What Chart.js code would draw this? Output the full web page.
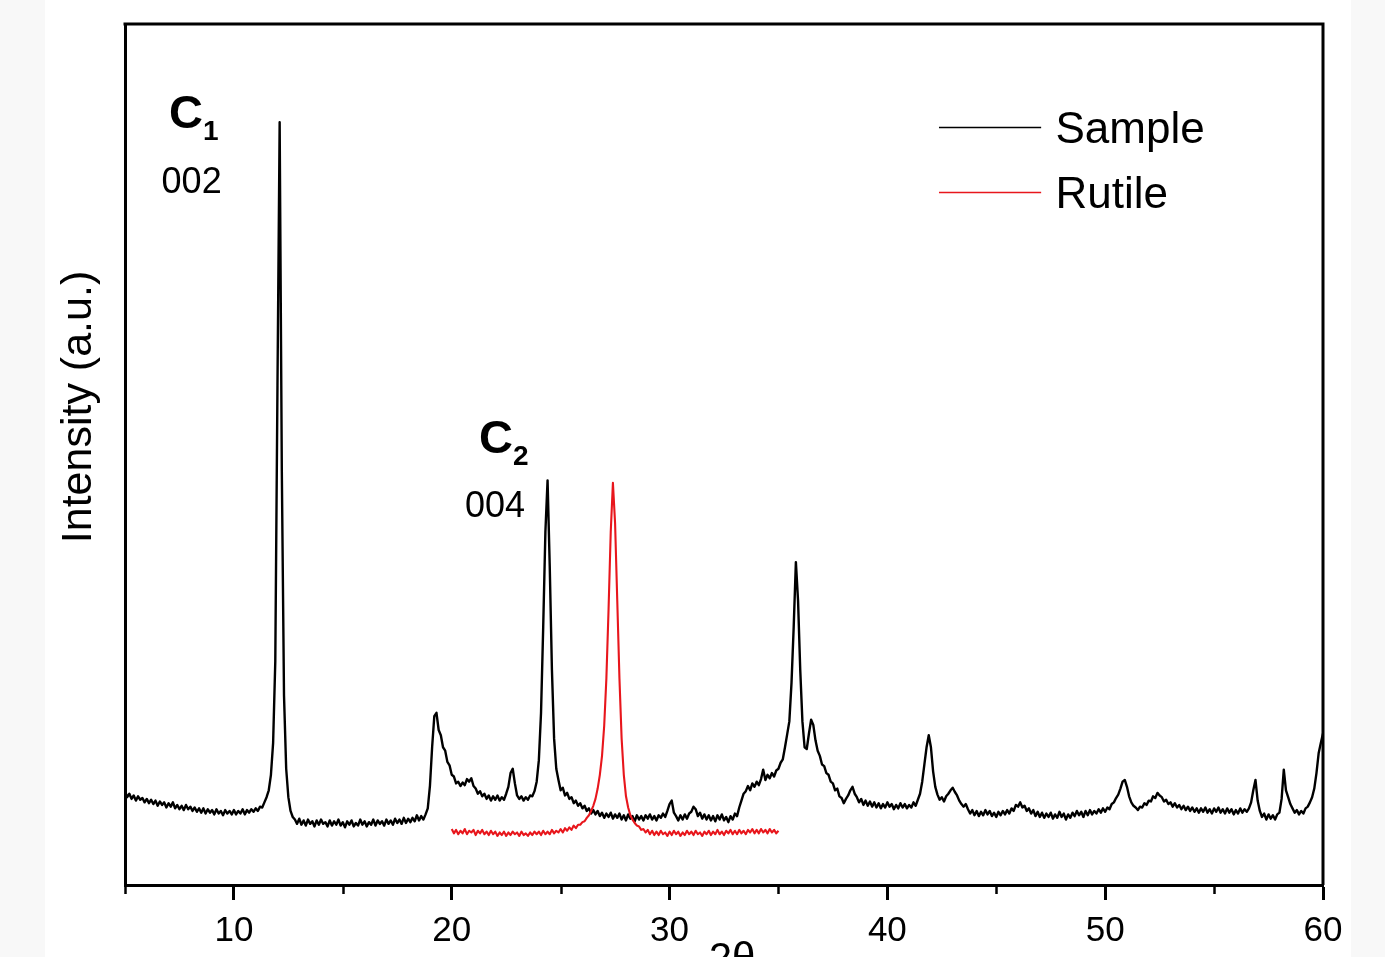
<!DOCTYPE html>
<html>
<head>
<meta charset="utf-8">
<title>XRD pattern</title>
<script src="https://cdn.jsdelivr.net/npm/chart.js@4.4.1/dist/chart.umd.min.js"></script>
<style>
  html, body { margin: 0; padding: 0; background: #f8f8f8; overflow: hidden; }
  #xrd { display: block; }
</style>
</head>
<body>
<canvas id="xrd" width="1385" height="957"></canvas>
<script>
// Scan settings (degrees 2θ)
const stepDeg = 0.1;
const sampleStart = 5.0;
const rutileStart = 20.0;

// Sample intensity, one row per degree (N.0 .. N.9), last value at 60.0
const sampleIntensity = [
  10.9, 10.2, 10.6, 10.0, 10.4, 9.8, 10.3, 9.9, 10.1, 9.6,   // 5
  10.0, 9.5, 9.9, 9.4, 9.8, 9.2, 9.7, 9.3, 9.6, 9.0,         // 6
  9.5, 9.1, 9.6, 8.9, 9.3, 8.8, 9.2, 8.7, 9.3, 8.8,          // 7
  9.1, 8.6, 9.0, 8.5, 8.9, 8.4, 8.9, 8.3, 8.8, 8.4,          // 8
  8.7, 8.2, 8.8, 8.3, 8.6, 8.1, 8.7, 8.3, 8.6, 8.2,          // 9
  8.7, 8.2, 8.6, 8.3, 8.8, 8.2, 8.7, 8.4, 8.8, 8.5,          // 10
  8.9, 8.6, 9.1, 9.0, 9.6, 10.2, 11.0, 12.8, 16.5, 26,       // 11
  58, 88.6, 48, 22, 13.5, 10.2, 8.6, 7.9, 7.6, 7.1,          // 12
  7.7, 7.0, 7.5, 6.9, 7.6, 7.1, 7.4, 6.8, 7.5, 7.0,          // 13
  7.6, 7.1, 7.3, 6.8, 7.5, 6.9, 7.4, 7.0, 7.6, 6.9,          // 14
  7.3, 6.7, 7.4, 7.0, 7.5, 6.8, 7.2, 6.9, 7.6, 7.0,          // 15
  7.4, 6.8, 7.3, 7.0, 7.6, 6.9, 7.5, 7.1, 7.4, 6.9,          // 16
  7.6, 7.1, 7.5, 7.0, 7.7, 7.2, 7.6, 7.1, 7.8, 7.2,          // 17
  7.7, 7.3, 7.8, 7.4, 8.1, 7.5, 8.0, 7.6, 8.2, 8.9,          // 18
  11.5, 16.0, 19.6, 20.0, 18.0, 17.4, 16.0, 15.6, 14.3, 13.9, // 19
  12.8, 12.6, 11.8, 12.0, 11.5, 11.9, 11.6, 12.3, 12.0, 12.4, // 20
  11.5, 11.2, 10.6, 10.9, 10.3, 10.6, 10.0, 10.4, 9.8, 10.3,  // 21
  9.9, 10.4, 9.8, 10.2, 9.9, 10.6, 11.4, 13.0, 13.5, 11.8,    // 22
  10.4, 10.0, 10.3, 9.8, 10.2, 9.9, 10.4, 10.3, 10.9, 12.0,   // 23
  14.5, 20, 30, 41, 47, 37, 25, 17, 13.5, 12.2,               // 24
  11.0, 11.3, 10.4, 10.7, 10.0, 10.2, 9.5, 9.8, 9.2, 9.5,     // 25
  8.9, 9.2, 8.6, 8.9, 8.3, 8.7, 8.2, 8.6, 8.0, 8.4,           // 26
  7.8, 8.3, 7.9, 8.4, 7.7, 8.2, 7.8, 8.3, 7.6, 8.1,           // 27
  7.5, 8.2, 7.7, 8.0, 7.4, 8.1, 7.6, 8.0, 7.5, 8.1,           // 28
  7.7, 8.2, 7.6, 8.0, 7.5, 8.1, 7.8, 8.3, 7.9, 8.6,           // 29
  9.4, 9.8, 8.4, 8.0, 7.5, 8.1, 7.6, 8.2, 7.7, 8.3,           // 30
  8.5, 9.1, 8.8, 8.0, 8.4, 7.7, 8.2, 7.6, 8.1, 7.5,           // 31
  8.0, 7.4, 8.1, 7.6, 8.2, 7.5, 7.9, 7.3, 8.0, 7.6,           // 32
  8.3, 8.0, 9.0, 9.8, 10.6, 10.9, 11.5, 11.0, 11.8, 11.4,     // 33
  12.0, 11.6, 12.3, 13.4, 12.2, 12.8, 12.4, 13.0, 12.6, 13.3, // 34
  13.5, 14.2, 14.6, 16.0, 17.5, 19.0, 23.5, 30, 37.5, 33,     // 35
  25, 19, 16.0, 15.8, 17.6, 19.2, 18.6, 16.8, 15.6, 15.0,     // 36
  14.0, 13.8, 13.0, 12.8, 12.0, 11.8, 11.0, 11.2, 10.3, 10.1, // 37
  9.5, 10.0, 10.4, 11.0, 11.4, 10.6, 10.2, 9.6, 10.0, 9.3,    // 38
  9.8, 9.2, 9.7, 9.1, 9.6, 9.0, 9.5, 8.9, 9.4, 9.0,           // 39
  9.6, 9.1, 9.4, 8.8, 9.3, 8.9, 9.5, 9.0, 9.4, 8.9,           // 40
  9.3, 9.0, 9.6, 9.2, 9.9, 10.6, 12.0, 14.0, 16.0, 17.4,      // 41
  16.0, 13.2, 11.4, 10.5, 9.9, 10.2, 9.7, 10.3, 10.6, 11.0,   // 42
  11.3, 10.8, 10.4, 9.8, 9.4, 9.1, 9.4, 8.8, 8.3, 8.7,        // 43
  8.1, 8.6, 8.0, 8.5, 8.1, 8.7, 8.2, 8.6, 8.0, 8.4,           // 44
  7.9, 8.5, 8.1, 8.6, 8.2, 8.7, 8.3, 8.9, 8.6, 9.3,           // 45
  9.1, 9.6, 9.0, 9.2, 8.6, 8.9, 8.3, 8.7, 8.0, 8.5,           // 46
  7.9, 8.4, 7.8, 8.3, 7.9, 8.4, 7.7, 8.2, 7.8, 8.5,           // 47
  7.9, 8.3, 7.6, 8.2, 7.8, 8.4, 8.0, 8.6, 8.1, 8.5,           // 48
  7.9, 8.6, 8.1, 8.7, 8.2, 8.6, 8.3, 8.8, 8.4, 8.9,           // 49
  8.5, 9.0, 8.8, 9.4, 9.6, 10.1, 10.5, 11.2, 12.0, 12.2,      // 50
  11.4, 10.3, 9.6, 9.2, 9.0, 8.7, 9.1, 9.0, 9.5, 9.3,         // 51
  9.8, 9.7, 10.3, 10.1, 10.7, 10.4, 10.2, 9.7, 9.9, 9.4,      // 52
  9.6, 9.1, 9.5, 9.0, 9.3, 8.8, 9.2, 8.7, 9.1, 8.6,           // 53
  9.0, 8.5, 8.9, 8.4, 8.9, 8.5, 9.0, 8.4, 8.8, 8.3,           // 54
  8.9, 8.5, 9.0, 8.4, 8.8, 8.3, 8.9, 8.4, 8.8, 8.2,           // 55
  8.7, 8.3, 8.9, 8.4, 8.8, 8.5, 8.9, 9.6, 11.0, 12.2,         // 56
  9.8, 8.6, 7.9, 8.3, 7.6, 8.2, 7.7, 8.1, 7.6, 8.2,           // 57
  8.4, 10.0, 13.4, 11.0, 10.2, 9.4, 8.9, 8.4, 8.7, 8.2,       // 58
  8.6, 8.3, 8.9, 9.1, 9.6, 10.2, 11.2, 13.0, 15.3, 16.5,      // 59
  17.6                                                        // 60
];

// Rutile reference pattern, 20.0 .. 35.0
const rutileIntensity = [
  6.5, 6.0, 6.4, 5.9, 6.3, 6.0, 6.5, 5.9, 6.3, 6.1,   // 20
  6.4, 5.8, 6.3, 6.0, 6.4, 5.9, 6.2, 5.8, 6.3, 5.9,   // 21
  6.2, 5.7, 6.1, 5.8, 6.2, 5.7, 6.1, 5.8, 6.2, 5.9,   // 22
  6.1, 5.7, 6.2, 5.8, 6.0, 5.7, 6.1, 5.8, 6.2, 5.9,   // 23
  6.2, 5.8, 6.3, 5.9, 6.2, 5.9, 6.4, 6.0, 6.3, 6.1,   // 24
  6.5, 6.1, 6.6, 6.3, 6.7, 6.4, 6.9, 6.6, 7.0, 7.0,   // 25
  7.3, 7.4, 7.8, 8.1, 8.6, 9.2, 10.0, 11.2, 12.8, 15.0, // 26
  18.5, 24, 32, 41, 46.7, 42, 33, 24, 17, 12.8,       // 27
  10.3, 9.0, 8.1, 7.6, 7.2, 6.9, 6.8, 6.4, 6.5, 6.1,  // 28
  6.4, 5.9, 6.3, 5.8, 6.2, 5.8, 6.3, 5.9, 6.1, 5.7,   // 29
  6.2, 5.8, 6.3, 5.9, 6.2, 5.7, 6.1, 5.8, 6.3, 5.9,   // 30
  6.2, 5.8, 6.3, 5.9, 6.1, 5.7, 6.2, 5.9, 6.3, 5.8,   // 31
  6.2, 5.9, 6.4, 5.9, 6.2, 5.8, 6.3, 6.0, 6.4, 5.9,   // 32
  6.3, 5.9, 6.4, 6.0, 6.3, 5.9, 6.4, 6.1, 6.5, 6.0,   // 33
  6.4, 6.0, 6.5, 6.1, 6.4, 6.0, 6.5, 6.1, 6.4, 6.0,   // 34
  6.3                                                 // 35
];

const seriesLabels = ['Sample', 'Rutile'];
const xTickValues = [10, 20, 30, 40, 50, 60];
const xMinorTicks = [5, 15, 25, 35, 45, 55];

const FONT = "'Liberation Sans', Arial, Helvetica, sans-serif";

function toPoints(start, values) {
  return values.map((v, i) => ({ x: Math.round((start + i * stepDeg) * 10) / 10, y: v }));
}

// Peak labels (placed in data coordinates)
const peakNotes = [
  { theta: 7.02, level: 87.9, main: 'C', sub: '1', hkl: '002', hklTheta: 6.68, hklLevel: 80.4 },
  { theta: 21.25, level: 50.2, main: 'C', sub: '2', hkl: '004', hklTheta: 20.61, hklLevel: 42.7 }
];

// Legend placement (data coordinates)
const legendBox = { lineFrom: 42.37, lineTo: 47.06, textAt: 47.72, rows: [88.0, 80.5] };

const pagePlugin = {
  id: 'pageBackground',
  beforeDraw(chart) {
    const ctx = chart.ctx;
    ctx.save();
    ctx.fillStyle = '#f8f8f8';
    ctx.fillRect(0, 0, chart.width, chart.height);
    ctx.fillStyle = '#ffffff';
    ctx.fillRect(45, 0, 1306, chart.height);
    ctx.restore();
  }
};

const decorPlugin = {
  id: 'xrdDecor',
  afterDraw(chart) {
    const { ctx, chartArea: area, scales: { x, y } } = chart;
    ctx.save();

    // top and right frame
    ctx.strokeStyle = '#000';
    ctx.lineWidth = 3;
    ctx.beginPath();
    ctx.moveTo(area.left - 1.5, area.top);
    ctx.lineTo(area.right, area.top);
    ctx.lineTo(area.right, area.bottom);
    ctx.stroke();

    // minor ticks
    ctx.lineWidth = 2.5;
    xMinorTicks.forEach(v => {
      const px = Math.round(x.getPixelForValue(v)) + 0.5;
      ctx.beginPath();
      ctx.moveTo(px, area.bottom);
      ctx.lineTo(px, area.bottom + 9);
      ctx.stroke();
    });

    // axis titles
    ctx.fillStyle = '#000';
    ctx.font = '43px ' + FONT;
    ctx.textAlign = 'center';
    ctx.textBaseline = 'alphabetic';
    ctx.save();
    ctx.translate(area.left - 34, area.top + 383);
    ctx.rotate(-Math.PI / 2);
    ctx.fillText('Intensity (a.u.)', 0, 0);
    ctx.restore();

    ctx.font = '42px ' + FONT;
    ctx.fillText('2θ', (area.left + area.right) / 2 + 8, area.bottom + 87);

    // peak labels
    ctx.textAlign = 'left';
    peakNotes.forEach(n => {
      const px = x.getPixelForValue(n.theta);
      const py = y.getPixelForValue(n.level);
      ctx.font = 'bold 47px ' + FONT;
      ctx.fillText(n.main, px, py);
      const w = ctx.measureText(n.main).width;
      ctx.font = 'bold 28px ' + FONT;
      ctx.fillText(n.sub, px + w, py + 12);
      ctx.font = '36px ' + FONT;
      ctx.fillText(n.hkl, x.getPixelForValue(n.hklTheta), y.getPixelForValue(n.hklLevel));
    });

    // legend
    chart.data.datasets.forEach((ds, i) => {
      const py = Math.round(y.getPixelForValue(legendBox.rows[i])) + 0.5;
      ctx.strokeStyle = ds.borderColor;
      ctx.lineWidth = 1.5;
      ctx.beginPath();
      ctx.moveTo(x.getPixelForValue(legendBox.lineFrom), py);
      ctx.lineTo(x.getPixelForValue(legendBox.lineTo), py);
      ctx.stroke();
      ctx.fillStyle = '#000';
      ctx.font = '44px ' + FONT;
      ctx.fillText(ds.label, x.getPixelForValue(legendBox.textAt), py + 15);
    });

    ctx.restore();
  }
};

const chart = new Chart(document.getElementById('xrd'), {
  type: 'line',
  data: {
    datasets: [
      {
        label: seriesLabels[0],
        data: toPoints(sampleStart, sampleIntensity),
        borderColor: '#000000',
        borderWidth: 2.4,
        borderJoinStyle: 'round',
        pointRadius: 0,
        tension: 0,
        order: 1
      },
      {
        label: seriesLabels[1],
        data: toPoints(rutileStart, rutileIntensity),
        borderColor: '#e8161c',
        borderWidth: 2.1,
        borderJoinStyle: 'round',
        pointRadius: 0,
        tension: 0,
        order: 0
      }
    ]
  },
  options: {
    responsive: false,
    animation: false,
    devicePixelRatio: 1,
    layout: { padding: { top: 24, right: 62, left: 0, bottom: 0 } },
    plugins: {
      legend: { display: false },
      tooltip: { enabled: false }
    },
    scales: {
      x: {
        type: 'linear',
        min: 5,
        max: 60,
        afterBuildTicks: axis => { axis.ticks = xTickValues.map(v => ({ value: v })); },
        afterFit: axis => { axis.height = 72; },
        ticks: {
          color: '#000',
          font: { family: FONT, size: 35 },
          padding: 10,
          maxRotation: 0,
          autoSkip: false
        },
        grid: {
          display: true,
          drawOnChartArea: false,
          drawTicks: true,
          tickLength: 15,
          tickWidth: 3,
          tickColor: '#000'
        },
        border: { display: true, color: '#000', width: 3 }
      },
      y: {
        min: 0,
        max: 100,
        afterFit: axis => { axis.width = 125; },
        ticks: { display: false },
        grid: { display: false },
        border: { display: true, color: '#000', width: 3 }
      }
    }
  },
  plugins: [pagePlugin, decorPlugin]
});
</script>
</body>
</html>
